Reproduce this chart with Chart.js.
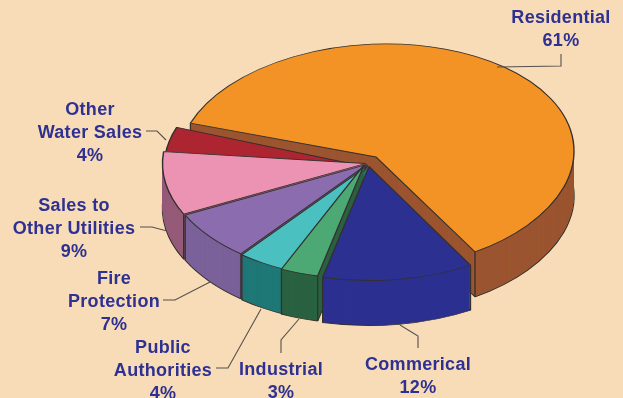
<!DOCTYPE html>
<html>
<head>
<meta charset="utf-8">
<title>Water sales by customer class</title>
<style>
  html, body { margin: 0; padding: 0; background: #f7dcb7; overflow: hidden; }
  canvas { display: block; }
</style>
</head>
<body>
<canvas id="pieChart" width="623" height="398"></canvas>
<script src="https://cdn.jsdelivr.net/npm/chart.js@4"></script>
<script>
const categories = [
  ["Residential"],
  ["Commerical"],
  ["Industrial"],
  ["Public", "Authorities"],
  ["Fire", "Protection"],
  ["Sales to", "Other Utilities"],
  ["Other", "Water Sales"],
];
const shares = [61, 12, 3, 4, 7, 9, 4];

const faceColors = ["#f39325", "#2c3090", "#4da973", "#4bc0c0", "#8b6daf", "#ec92b3", "#ac2530"];
const wallColors = ["#9b5530", "#2c3090", "#2a6241", "#1f7877", "#7a6199", "#955a78", "#7a1c26"];

// back to front, so nearer slices cover the walls behind them
const paintOrder = [0, 6, 5, 4, 3, 2, 1];
const wallDepth = 45;
const edgeColor = "#33302e";

// where each slice's tip lands; the pulled-out slices share one ellipse, Residential has its own
const ringEllipse = { rx: 203, ry: 114, tilt: 0 };
const sliceFrames = [
  { x: 376, y: 157, rx: 198, ry: 113, tilt: -0.03 },
  { x: 369, y: 166.5, ...ringEllipse },
  { x: 364, y: 165, ...ringEllipse },
  { x: 368, y: 165.5, ...ringEllipse },
  { x: 367, y: 164.5, ...ringEllipse },
  { x: 365.5, y: 163.5, ...ringEllipse },
  { x: 367, y: 167, ...ringEllipse },
];

// anchor x, first baseline and leader polyline for each category
const callouts = [
  { x: 561, y: 23, leader: [[497, 67], [561, 66], [561, 54]] },
  { x: 418, y: 370, leader: [[418, 348], [418, 336], [400, 325]] },
  { x: 281, y: 375, leader: [[281, 353], [281, 340], [299, 319]] },
  { x: 163, y: 353, leader: [[216, 368], [228, 368], [261, 309]] },
  { x: 114, y: 284, leader: [[163, 300], [175, 300], [210, 282]] },
  { x: 74, y: 211, leader: [[140, 227], [152, 227], [167, 231]] },
  { x: 90, y: 115, leader: [[146, 131], [157, 131], [166, 140]] },
];

function placeSlice(ctx, arc, index, drop) {
  const frame = sliceFrames[index];
  const sx = frame.rx / arc.outerRadius;
  const sy = frame.ry / arc.outerRadius;
  ctx.translate(frame.x, frame.y + drop);
  ctx.transform(sx, frame.tilt * sx, 0, sy, 0, 0);
  ctx.translate(-arc.x, -arc.y);
}

function paintArc(ctx, arc, index, drop, fill, borderWidth) {
  const resolved = arc.options;
  const look = Object.create(resolved);
  look.backgroundColor = fill;
  look.borderWidth = borderWidth;
  arc.options = look;
  ctx.save();
  placeSlice(ctx, arc, index, drop);
  arc.draw(ctx);
  ctx.restore();
  arc.options = resolved;
}

// vertical edge of the wall at the rim corner of a slice
function paintCorner(ctx, arc, index, angle) {
  const px = arc.x + Math.cos(angle) * arc.outerRadius;
  const py = arc.y + Math.sin(angle) * arc.outerRadius;
  ctx.beginPath();
  ctx.save();
  placeSlice(ctx, arc, index, 0);
  ctx.moveTo(px, py);
  ctx.restore();
  ctx.save();
  placeSlice(ctx, arc, index, wallDepth);
  ctx.lineTo(px, py);
  ctx.restore();
  ctx.strokeStyle = edgeColor;
  ctx.lineWidth = 1.3;
  ctx.stroke();
}

const extrudedPie = {
  id: "extrudedPie",
  beforeDatasetDraw(chart) {
    const ctx = chart.ctx;
    const arcs = chart.getDatasetMeta(0).data;
    paintOrder.forEach((i) => {
      const arc = arcs[i];
      paintArc(ctx, arc, i, wallDepth, wallColors[i], 1.4);
      for (let drop = wallDepth - 1; drop > 0; drop--) {
        paintArc(ctx, arc, i, drop, wallColors[i], 0);
      }
      // corners on the far side of the pie stay hidden behind their own top
      [arc.startAngle, arc.endAngle].forEach((angle) => {
        if (i === 0 || Math.sin(angle) > 0) paintCorner(ctx, arc, i, angle);
      });
      paintArc(ctx, arc, i, 0, faceColors[i], 1.4);
    });
    return false;
  },
  afterDraw(chart) {
    const ctx = chart.ctx;
    ctx.save();
    ctx.strokeStyle = "#55514c";
    ctx.lineWidth = 1.1;
    callouts.forEach((c) => {
      ctx.beginPath();
      c.leader.forEach((p, n) => (n ? ctx.lineTo(p[0], p[1]) : ctx.moveTo(p[0], p[1])));
      ctx.stroke();
    });
    ctx.fillStyle = "#2e3192";
    ctx.font = "bold 18px 'Liberation Sans', Arial, sans-serif";
    ctx.letterSpacing = "0.3px";
    ctx.textAlign = "center";
    ctx.textBaseline = "alphabetic";
    callouts.forEach((c, i) => {
      const lines = categories[i].concat(shares[i] + "%");
      lines.forEach((line, n) => ctx.fillText(line, c.x, c.y + n * 23.2));
    });
    ctx.restore();
  },
};

new Chart(document.getElementById("pieChart"), {
  type: "pie",
  data: {
    labels: categories.map((c) => c.join(" ")),
    datasets: [
      {
        data: shares,
        backgroundColor: faceColors,
        borderColor: edgeColor,
        borderWidth: 1.4,
      },
    ],
  },
  options: {
    responsive: false,
    animation: false,
    rotation: 290.4,
    plugins: {
      legend: { display: false },
      tooltip: { enabled: false },
    },
  },
  plugins: [extrudedPie],
});
</script>
</body>
</html>
